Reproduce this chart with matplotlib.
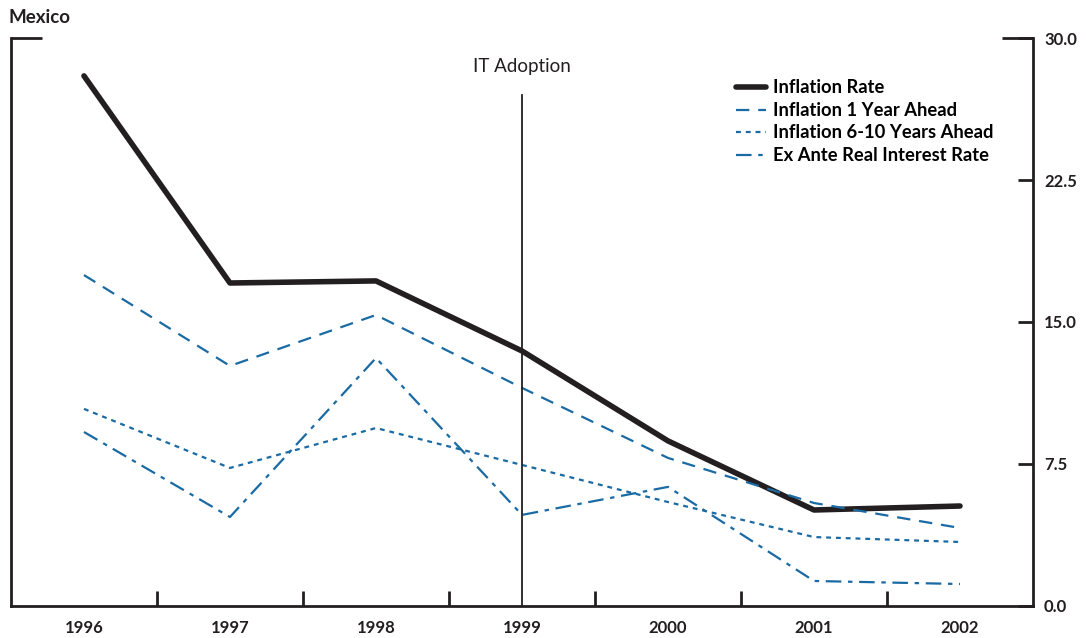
import numpy as np
import matplotlib.pyplot as plt

years = [1996, 1997, 1998, 1999, 2000, 2001, 2002]
inflation = [28.0, 17.06, 17.17, 13.47, 8.72, 5.07, 5.28]
ahead_1yr = [17.48, 12.68, 15.37, 11.52, 7.82, 5.44, 4.12]
ahead_6_10 = [10.41, 7.29, 9.40, 7.45, 5.49, 3.64, 3.38]
ex_ante = [9.19, 4.70, 13.10, 4.81, 6.29, 1.32, 1.16]
yticks = [0.0, 7.5, 15.0, 22.5, 30.0]
adoption_year = 1999

blue = '#1a6aa3'
dark = '#231f20'
plt.rcParams['font.family'] = ['Lato', 'DejaVu Sans']

fig = plt.figure(figsize=(10.86, 6.38), dpi=100)
ax = fig.add_axes([0.0101, 0.0502, 0.9411, 0.8902])

ax.plot(years, inflation, color=dark, lw=4, solid_capstyle='round', label='Inflation Rate')
ax.plot(years, ahead_1yr, color=blue, lw=1.6, dashes=(6, 4), label='Inflation 1 Year Ahead')
ax.plot(years, ahead_6_10, color=blue, lw=1.6, dashes=(2.2, 2.2), label='Inflation 6-10 Years Ahead')
ax.plot(years, ex_ante, color=blue, lw=1.6, dashes=(7, 3, 2, 3), label='Ex Ante Real Interest Rate')

ax.plot([adoption_year, adoption_year], [0, 27], color=dark, lw=1.3)
ax.text(adoption_year, 28.5, 'IT Adoption', ha='center', va='center', fontsize=13.5, color=dark)

ax.set_xlim(1995.5, 2002.5)
ax.set_ylim(0, 30)

ax.spines['top'].set_visible(False)
for s in ['left', 'right', 'bottom']:
    ax.spines[s].set_linewidth(2)
    ax.spines[s].set_color(dark)

# short caps at the top corners
ax.plot([1995.5, 1995.71], [30, 30], color=dark, lw=2, clip_on=False, solid_capstyle='butt')
ax.plot([2002.29, 2002.5], [30, 30], color=dark, lw=2, clip_on=False, solid_capstyle='butt')

ax.yaxis.tick_right()
ax.set_yticks(yticks)
ax.set_yticklabels([f'{v:.1f}' for v in yticks], fontsize=12, fontweight='bold', color=dark)
ax.tick_params(axis='y', direction='in', length=11, width=2, pad=8, color=dark)

ax.set_xticks(np.arange(1996.5, 2002.5, 1))
ax.set_xticklabels([])
ax.set_xticks(years, minor=True)
ax.set_xticklabels([str(y) for y in years], minor=True, fontsize=12, fontweight='bold', color=dark)
ax.tick_params(axis='x', which='major', direction='in', length=11, width=2, color=dark)
ax.tick_params(axis='x', which='minor', length=0, pad=10)

fig.text(0.008, 0.972, 'Mexico', fontsize=13.5, fontweight='bold', color=dark, va='center')

ax.legend(loc='upper left', bbox_to_anchor=(0.702, 0.94), frameon=False,
          handlelength=1.65, handletextpad=0.4, labelspacing=0.3, borderaxespad=0,
          prop={'weight': 'bold', 'size': 13.2})

fig.savefig('out.png', dpi=100)
